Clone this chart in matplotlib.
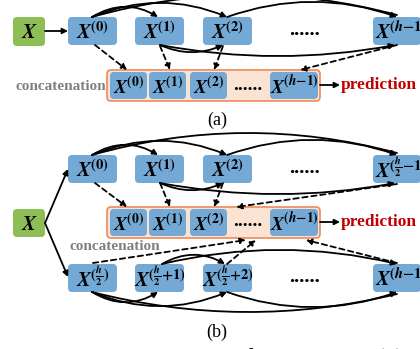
import matplotlib
matplotlib.use("Agg")
import matplotlib.pyplot as plt
from matplotlib.patches import FancyBboxPatch, FancyArrowPatch
from matplotlib.path import Path

plt.rcParams["mathtext.fontset"] = "stix"

# node superscripts
sup_a_top = [r"\mathbf{(0)}", r"\mathbf{(1)}", r"\mathbf{(2)}", r"\mathbf{(}\mathbfit{h}\mathbf{-1)}"]
sup_concat = [r"\mathbf{(0)}", r"\mathbf{(1)}", r"\mathbf{(2)}", r"\mathbf{(}\mathbfit{h}\mathbf{-1)}"]
sup_b_top = [r"\mathbf{(0)}", r"\mathbf{(1)}", r"\mathbf{(2)}",
             r"\mathbf{(}\frac{\mathbfit{h}}{\mathbf{2}}\mathbf{-1)}"]
sup_b_bot = [r"\mathbf{(}\frac{\mathbfit{h}}{\mathbf{2}}\mathbf{)}",
             r"\mathbf{(}\frac{\mathbfit{h}}{\mathbf{2}}\mathbf{+1)}",
             r"\mathbf{(}\frac{\mathbfit{h}}{\mathbf{2}}\mathbf{+2)}",
             r"\mathbf{(}\mathbfit{h}\mathbf{-1)}"]
input_label = r"$\mathbfit{X}$"
concat_text = "concatenation"
pred_text = "prediction"
panel_labels = ["(a)", "(b)"]
caption = "Figure 2: Illustration of the overall (a)"

BLUE = "#74a9d6"
GREEN = "#8fbd55"
PEACH = "#fbe3d4"
ORANGE = "#ee8a5a"
GRAY = "#7f7f7f"
RED = "#c00000"

col_x = [68, 135, 203, 373]
col_w = 49
cat_x = [110, 149, 190, 270]
cat_w = [37, 37, 37, 48]

fig = plt.figure(figsize=(4.2, 3.49), dpi=100)
ax = fig.add_axes([0, 0, 1, 1])
ax.set_xlim(0, 420)
ax.set_ylim(349, 0)
ax.axis("off")


def box(x, y, w, h, fc, r=4, ec="none", lw=0, z=2):
    ax.add_patch(FancyBboxPatch((x, y), w, h, boxstyle=f"round,pad=0,rounding_size={r}",
                                fc=fc, ec=ec, lw=lw, zorder=z))


def node(x, y, w, h, sup, fs=15, z=3, left=False):
    box(x, y, w, h, BLUE, z=z)
    if left:
        ax.text(x + 2, y + h / 2 + 1, r"$\mathbfit{X}^{" + sup + "}$", ha="left", va="center",
                fontsize=fs, zorder=z + 1)
    else:
        ax.text(x + w / 2, y + h / 2 + 1, r"$\mathbfit{X}^{" + sup + "}$", ha="center",
                va="center", fontsize=fs, zorder=z + 1)


def curve(p0, p2, ypeak=None, dashed=False, head=True, lw=1.3):
    if ypeak is None:
        c = ((p0[0] + p2[0]) / 2, (p0[1] + p2[1]) / 2)
    else:
        c = ((p0[0] + p2[0]) / 2, 2 * ypeak - (p0[1] + p2[1]) / 2)
    path = Path([p0, c, p2], [Path.MOVETO, Path.CURVE3, Path.CURVE3])
    a = FancyArrowPatch(path=path, arrowstyle="-|>" if head else "-", mutation_scale=8,
                        color="black", lw=lw, linestyle=(0, (3, 2)) if dashed else "-",
                        zorder=5, shrinkA=0, shrinkB=0)
    ax.add_patch(a)


def dots(x, y, fs=15):
    ax.text(x, y, "......", ha="center", va="center", fontsize=fs, fontweight="bold",
            family="Liberation Serif")


def concat_row(y0):
    box(107, y0, 213, 31, PEACH, r=4, ec=ORANGE, lw=1.2, z=1)
    for i, s in enumerate(sup_concat):
        node(cat_x[i], y0 + 2, cat_w[i], 27, s, fs=14)
    dots(248, y0 + 15, fs=14)
    curve((320, y0 + 15), (340, y0 + 15))
    ax.text(341, y0 + 15, pred_text, ha="left", va="center", color=RED, fontsize=12.5,
            fontweight="bold", family="Liberation Serif")


def row(y0, sups):
    for i, s in enumerate(sups):
        node(col_x[i], y0, col_w if i < 3 else 48, 28, s, left=(i == 3))
    dots(305, y0 + 13)


def top_row(y0, sups):
    row(y0, sups)
    t, b = y0, y0 + 28
    # above
    curve((92, t), (158, t), t - 10)
    curve((92, t), (227, t), t - 14)
    curve((227, t), (397, t), t - 15)
    curve((92, t), (397, t - 2), t - 22, head=False)
    # below
    curve((160, b), (223, b), b + 7)
    curve((160, b), (395, b), b + 11)


def bottom_row(y0, sups):
    row(y0, sups)
    t, b = y0, y0 + 28
    # below
    curve((92, b), (158, b), b + 10)
    curve((92, b), (227, b), b + 14)
    curve((227, b), (397, b), b + 15)
    curve((92, b), (397, b + 2), b + 20, head=False)
    # above
    curve((162, t), (225, t), t - 9)
    curve((162, t), (397, t), t - 14)


# ---- (a)
box(13, 17, 32, 29, GREEN)
ax.text(29, 32, input_label, ha="center", va="center", fontsize=15, zorder=4)
curve((45, 31), (68, 31))
top_row(17, sup_a_top)
concat_row(70)
ax.text(15, 86, concat_text, ha="left", va="center", color=GRAY, fontsize=11,
        fontweight="bold", family="Liberation Serif")
curve((95, 45), (127, 70), dashed=True)
curve((160, 46), (170, 70), dashed=True)
curve((223, 46), (214, 70), dashed=True)
curve((397, 45), (300, 70), dashed=True)
ax.text(217, 120, panel_labels[0], ha="center", va="center", fontsize=13,
        family="Liberation Serif")

# ---- (b)
box(13, 209, 32, 28, GREEN)
ax.text(29, 224, input_label, ha="center", va="center", fontsize=15, zorder=4)
curve((45, 223), (68, 169))
curve((45, 223), (68, 277))
top_row(155, sup_b_top)
concat_row(207)
bottom_row(264, sup_b_bot)
ax.text(70, 247, concat_text, ha="left", va="center", color=GRAY, fontsize=11,
        fontweight="bold", family="Liberation Serif")
curve((95, 183), (127, 207), dashed=True)
curve((160, 183), (170, 207), dashed=True)
curve((223, 183), (214, 207), dashed=True)
curve((397, 184), (236, 207), dashed=True)
curve((93, 263), (246, 240), dashed=True)
curve((227, 264), (256, 240), dashed=True)
curve((397, 263), (306, 240), dashed=True)
ax.text(217, 332, panel_labels[1], ha="center", va="center", fontsize=13,
        family="Liberation Serif")

# caption of the source figure, only its top edge is inside the crop
ax.text(12, 348.5, caption, ha="left", va="top", fontsize=18.5, family="Liberation Serif")

fig.savefig("out.png", dpi=100)
